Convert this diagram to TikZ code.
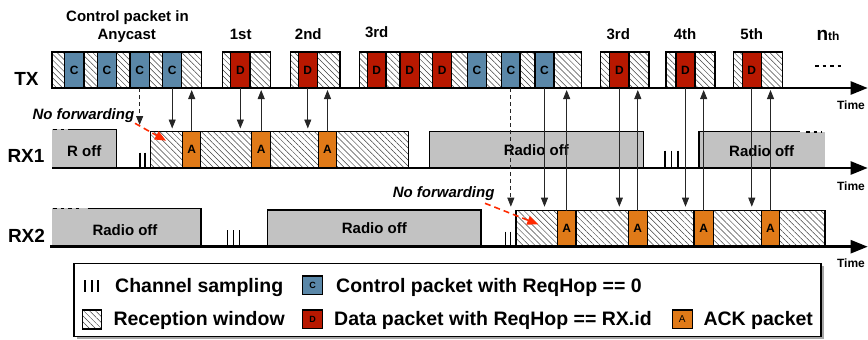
\documentclass[tikz,border=0pt]{standalone}
\usepackage{fontspec}
\setmainfont{Liberation Sans}
\usetikzlibrary{arrows.meta,patterns.meta,shadows}
\definecolor{cblue}{HTML}{5A87A8}
\definecolor{dred}{HTML}{B81800}
\definecolor{aorange}{HTML}{E07A18}
\definecolor{offgray}{HTML}{C2C2C2}
\definecolor{fwdred}{HTML}{FF2A00}
\newcommand\fs[1]{\fontsize{#1}{#1}\selectfont\bfseries}
\newcommand\pk[7]{\node[#2, minimum width={(#4)-(#3)}, minimum height={#6}] (#1) at (#3,#5) {#7};}
\begin{document}
\begin{tikzpicture}[x=1pt,y=-1pt,
  cell/.style={draw=black, line width=1.2pt, inner sep=0pt, outer sep=0pt, anchor=south west, font=\fs{12}},
  hcell/.style={cell, pattern={Lines[angle=-45,distance=4.2pt,line width=0.5pt]}, pattern color=black!75},
  ccell/.style={cell, fill=cblue},
  dcell/.style={cell, fill=dred},
  acell/.style={cell, fill=aorange},
  offbox/.style={cell, fill=offgray, font=\fs{15}},
  sig/.style={draw=black!85, line width=0.8pt, -{Triangle[length=9pt,width=7pt]}},
  dsig/.style={sig, dash pattern=on 4pt off 3pt},
  fwd/.style={draw=fwdred, line width=1.6pt, dash pattern=on 6pt off 4pt, -{Triangle[length=11pt,width=9pt]}},
  axis/.style={line width=2.5pt, -{Triangle[length=17pt,width=13pt]}},
  samp/.style={line width=1.4pt},
  lbl/.style={font=\fs{15}},
  row/.style={font=\fs{19}, anchor=base},
  tm/.style={font=\fs{12}},
  nf/.style={font=\fs{15}\itshape, anchor=base west},
  leg/.style={font=\fs{19.5}, anchor=base west},
  dots/.style={line width=1.6pt, dash pattern=on 3.5pt off 4pt}
]
\useasboundingbox (0,0) rectangle (868,340);

% ---------- TX ----------
\pk{th1}{hcell}{52}{64.3}{88}{36}{}
\pk{tc1}{ccell}{64.3}{84}{88}{36}{C}
\pk{th2}{hcell}{84}{97.3}{88}{36}{}
\pk{tc2}{ccell}{97.3}{116.7}{88}{36}{C}
\pk{th3}{hcell}{116.7}{130}{88}{36}{}
\pk{tc3}{ccell}{130}{149.3}{88}{36}{C}
\pk{th4}{hcell}{149.3}{162.7}{88}{36}{}
\pk{tc4}{ccell}{162.7}{181.7}{88}{36}{C}
\pk{th5}{hcell}{181.7}{201.7}{88}{36}{}

\pk{ta1}{hcell}{222.3}{230.7}{88}{36}{}
\pk{td1}{dcell}{230.7}{250}{88}{36}{D}
\pk{tb1}{hcell}{250}{270.7}{88}{36}{}

\pk{ta2}{hcell}{290.7}{298.3}{88}{36}{}
\pk{td2}{dcell}{298.3}{317.3}{88}{36}{D}
\pk{tb2}{hcell}{317.3}{340}{88}{36}{}

\pk{tg1}{hcell}{359.3}{367.3}{88}{36}{}
\pk{tgd1}{dcell}{367.3}{386}{88}{36}{D}
\pk{tg2}{hcell}{386}{400}{88}{36}{}
\pk{tgd2}{dcell}{400}{419.3}{88}{36}{D}
\pk{tg3}{hcell}{419.3}{432.7}{88}{36}{}
\pk{tgd3}{dcell}{432.7}{451.7}{88}{36}{D}
\pk{tg4}{hcell}{451.7}{467.3}{88}{36}{}
\pk{tgc1}{ccell}{467.3}{486.7}{88}{36}{C}
\pk{tg5}{hcell}{486.7}{501.7}{88}{36}{}
\pk{tgc2}{ccell}{501.7}{520}{88}{36}{C}
\pk{tg6}{hcell}{520}{535}{88}{36}{}
\pk{tgc3}{ccell}{535}{554}{88}{36}{C}
\pk{tg7}{hcell}{554}{581.7}{88}{36}{}

\pk{ta4}{hcell}{600.7}{609.7}{88}{36}{}
\pk{td4}{dcell}{609.7}{629}{88}{36}{D}
\pk{tb4}{hcell}{629}{649}{88}{36}{}

\pk{ta5}{hcell}{666}{676}{88}{36}{}
\pk{td5}{dcell}{676}{695}{88}{36}{D}
\pk{tb5}{hcell}{695}{715}{88}{36}{}

\pk{ta6}{hcell}{733.3}{742.3}{88}{36}{}
\pk{td6}{dcell}{742.3}{761.3}{88}{36}{D}
\pk{tb6}{hcell}{761.3}{782.3}{88}{36}{}

\draw[dots] (815,65.7) -- (842,65.7);

% top labels
\node[lbl, anchor=base] (lctl) at (127.5,21.7) {Control packet in};
\node[lbl, anchor=base] (lany) at (126.7,39.3) {Anycast};
\node[lbl, anchor=base] (l1st) at (240.7,39.3) {1st};
\node[lbl, anchor=base] (l2nd) at (308.3,39.3) {2nd};
\node[lbl, anchor=base] (l3rd) at (376.7,37.7) {3rd};
\node[lbl, anchor=base] (l3rdb) at (618.3,39.3) {3rd};
\node[lbl, anchor=base] (l4th) at (685,39.3) {4th};
\node[lbl, anchor=base] (l5th) at (751.7,39.3) {5th};
\node[lbl, anchor=base] (lnth) at (828,40) {{\fontsize{19}{19}\selectfont n}{\fontsize{12}{12}\selectfont th}};

% ---------- RX1 ----------
\fill[offgray] (52,129.3) rectangle (116.7,168);
\draw[line width=1.2pt] (70,129.3) -- (116.7,129.3) -- (116.7,168);
\draw[dots] (53,129.3) -- (70,129.3);
\node[font=\fs{15}] (roff) at (84.2,150.7) {R off};
\draw[samp] (140,152.7) -- (140,168) (145,152.7) -- (145,168);

\pk{r1h1}{hcell}{150.7}{182.7}{168}{36.3}{}
\pk{r1a1}{acell}{182.7}{200.7}{168}{36.3}{A}
\pk{r1h2}{hcell}{200.7}{251.7}{168}{36.3}{}
\pk{r1a2}{acell}{251.7}{270.7}{168}{36.3}{A}
\pk{r1h3}{hcell}{270.7}{318.3}{168}{36.3}{}
\pk{r1a3}{acell}{318.3}{336.7}{168}{36.3}{A}
\pk{r1h4}{hcell}{336.7}{408.3}{168}{36.3}{}

\pk{r1off}{offbox}{429.3}{643.3}{168}{36.3}{Radio off}

\draw[samp] (665,150.7) -- (665,168) (671.5,150.7) -- (671.5,168) (678,150.7) -- (678,168);
\fill[offgray] (699,131.7) rectangle (825,168);
\draw[line width=1.2pt] (699,168) -- (699,131.7) -- (800,131.7);
\draw[dots] (806,131.7) -- (822,131.7);
\node[font=\fs{15}] (r1off2) at (761.7,150.7) {Radio off};

% ---------- RX2 ----------
\fill[offgray] (52,208.3) rectangle (201,246.7);
\draw[line width=1.2pt] (87.7,208.3) -- (201,208.3) -- (201,246.7);
\draw[dots] (53,208.3) -- (79,208.3);
\node[font=\fs{15}] (r2off1) at (125,230) {Radio off};
\draw[samp] (227.7,230) -- (227.7,246.7) (233.5,230) -- (233.5,246.7) (239.3,230) -- (239.3,246.7);
\pk{r2off2}{offbox}{267.7}{481}{246.7}{36.7}{Radio off}
\draw[samp] (505.3,231.7) -- (505.3,246.7) (510.7,231.7) -- (510.7,246.7);

\pk{r2h1}{hcell}{516}{557.3}{246.7}{36}{}
\pk{r2a1}{acell}{557.3}{576}{246.7}{36}{A}
\pk{r2h2}{hcell}{576}{628.3}{246.7}{36}{}
\pk{r2a2}{acell}{628.3}{647.3}{246.7}{36}{A}
\pk{r2h3}{hcell}{647.3}{694}{246.7}{36}{}
\pk{r2a3}{acell}{694}{713.3}{246.7}{36}{A}
\pk{r2h4}{hcell}{713.3}{761.7}{246.7}{36}{}
\pk{r2a4}{acell}{761.7}{779.3}{246.7}{36}{A}
\pk{r2h5}{hcell}{779.3}{825}{246.7}{36}{}

% ---------- axes ----------
\coordinate (txs) at (52,88);   \coordinate (txe) at (867.7,88);
\coordinate (r1s) at (52,168);  \coordinate (r1e) at (867.7,168);
\coordinate (r2s) at (50,246.7);\coordinate (r2e) at (867.7,246.7);
\draw[axis] (txs) -- (txe);
\draw[axis] (r1s) -- (r1e);
\draw[axis] (r2s) -- (r2e);
\node[tm] (tim1) at (851,105) {Time};
\node[tm] (tim2) at (851,186) {Time};
\node[tm] (tim3) at (851,263.3) {Time};

\node[row] (ltx) at (26.5,85) {TX};
\node[row] (lrx1) at (26,162.7) {RX1};
\node[row] (lrx2) at (26.5,242.7) {RX2};

% ---------- signals ----------
\coordinate (txbot) at (0,90);
\coordinate (r1top) at (0,128.5);
\coordinate (r2top) at (0,206.7);
\coordinate (nfend) at (0,125);
\draw[dsig] (tc3.south) -- (tc3.south |- nfend);
\draw[sig] (tc4.south) -- (tc4.south |- r1top);
\draw[sig] (td1.south) -- (td1.south |- r1top);
\draw[sig] (td2.south) -- (td2.south |- r1top);
\draw[sig] (r1a1.north) -- (r1a1.north |- txbot);
\draw[sig] (r1a2.north) -- (r1a2.north |- txbot);
\draw[sig] (r1a3.north) -- (r1a3.north |- txbot);

\draw[dsig] (tgc2.south) -- (tgc2.south |- r2top);
\draw[sig] (tgc3.south) -- (tgc3.south |- r2top);
\draw[sig] (td4.south) -- (td4.south |- r2top);
\draw[sig] (td5.south) -- (td5.south |- r2top);
\draw[sig] (td6.south) -- (td6.south |- r2top);
\draw[sig] (r2a1.north) -- (r2a1.north |- txbot);
\draw[sig] (r2a2.north) -- (r2a2.north |- txbot);
\draw[sig] (r2a3.north) -- (r2a3.north |- txbot);
\draw[sig] (r2a4.north) -- (r2a4.north |- txbot);

% no forwarding
\node[nf] (nf1) at (29,119) {No forwarding};
\coordinate (nf1s) at (135,123.3); \coordinate (nf1e) at (166,140.7);
\draw[fwd] (nf1s) -- (nf1e);
\node[nf] (nf2) at (389.3,197.3) {No forwarding};
\coordinate (nf2s) at (485,203.3); \coordinate (nf2e) at (538.3,224.3);
\draw[fwd] (nf2s) -- (nf2e);

% ---------- legend ----------
\node[draw, line width=1.2pt, fill=white, inner sep=0pt, outer sep=0pt, anchor=north west,
  minimum width=747pt, minimum height=73.4pt,
  drop shadow={shadow xshift=2.5pt, shadow yshift=-2.5pt, opacity=.35, fill=black}] (legend) at (74,263.3) {};
\draw[line width=2pt] (85,280) -- (85,291.7) (91.7,280) -- (91.7,291.7) (98.3,280) -- (98.3,291.7);
\node[leg] (lsamp) at (111.7,292.5) {Channel sampling};
\node[hcell, line width=1.4pt, anchor=north west, minimum width=19pt, minimum height=19pt] (lrw) at (82.7,310) {};
\node[leg] (lrwt) at (110,325) {Reception window};
\node[ccell, line width=1.4pt, anchor=north west, minimum width=19.6pt, minimum height=18.3pt, font=\fs{9}] (lc) at (302.7,276) {C};
\node[leg] (lct) at (332.7,292.5) {Control packet with ReqHop == 0};
\node[dcell, line width=1.4pt, anchor=north west, minimum width=19.6pt, minimum height=18.5pt, font=\fs{9}] (ld) at (302.7,310) {D};
\node[leg] (ldt) at (330.7,325) {Data packet with ReqHop == RX.id};
\node[acell, line width=1.4pt, anchor=north west, minimum width=20pt, minimum height=18.5pt, font=\fontsize{10}{10}\selectfont] (la) at (672.3,310) {A};
\node[leg] (lat) at (700,325) {ACK packet};
\end{tikzpicture}
\end{document}
